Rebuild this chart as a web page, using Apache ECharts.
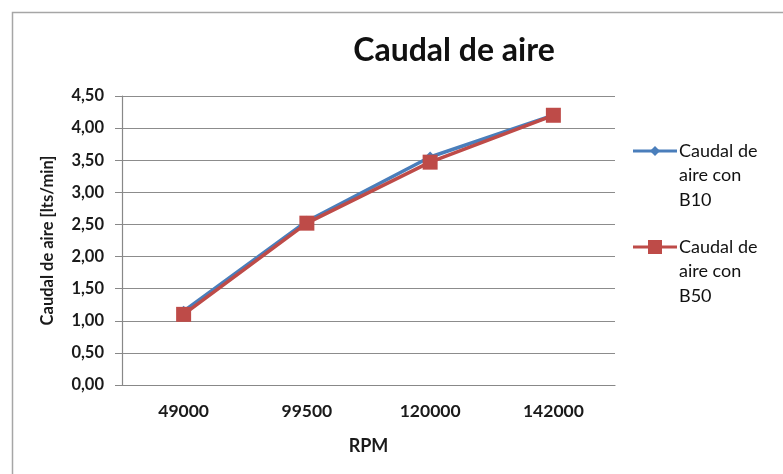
<!DOCTYPE html>
<html>
<head>
<meta charset="utf-8">
<script src="https://cdn.jsdelivr.net/npm/echarts@6/dist/echarts.min.js"></script>
<style>html,body{margin:0;padding:0;background:#fff}#c{width:783px;height:474px}</style>
</head>
<body>
<div id="c"></div>
<script>
const categories = ['49000', '99500', '120000', '142000'];
const b10 = [1.15, 2.55, 3.55, 4.20];
const b50 = [1.10, 2.52, 3.47, 4.20];
const seriesNames = ['Caudal de\naire con\nB10', 'Caudal de\naire con\nB50'];
const seriesColors = ['#4a7ebb', '#be4b48'];
const FONT = 'Lato';

const chart = echarts.init(document.getElementById('c'));

function legendEntry(i, cy, symbol) {
  const c = seriesColors[i];
  const els = [
    { type: 'line', shape: { x1: 633, y1: cy, x2: 677, y2: cy }, style: { stroke: c, lineWidth: 3 }, silent: true },
    { type: 'text', left: 679, top: cy - 12.5,
      style: { text: seriesNames[i], fill: '#111', font: 'normal 18px ' + FONT, lineHeight: 24.5 }, silent: true }
  ];
  if (symbol === 'diamond') {
    els.push({ type: 'polygon', shape: { points: [[655, cy - 5], [660, cy], [655, cy + 5], [650, cy]] }, style: { fill: c }, silent: true });
  } else {
    els.push({ type: 'rect', shape: { x: 648, y: cy - 7, width: 14, height: 14 }, style: { fill: c }, silent: true });
  }
  return els;
}

chart.setOption({
  animation: false,
  backgroundColor: '#fff',
  graphic: [{
    type: 'rect', left: 10, top: 10, shape: { width: 790, height: 480 },
    style: { fill: 'none', stroke: '#a6a6a6', lineWidth: 1.5 }, silent: true
  }].concat(legendEntry(0, 151, 'diamond'), legendEntry(1, 247, 'rect')),
  title: {
    text: 'Caudal de aire', left: 449, top: 30, textAlign: 'center',
    textStyle: { fontFamily: FONT, fontSize: 32, fontWeight: 'bold', color: '#111' }
  },
  grid: { left: 122, top: 96, right: 168, bottom: 89, containLabel: false },
  xAxis: {
    type: 'category', data: categories, boundaryGap: true,
    name: 'RPM', nameLocation: 'middle', nameGap: 52,
    nameTextStyle: { fontFamily: FONT, fontSize: 18, fontWeight: 'bold', color: '#1a1a1a' },
    axisLine: { lineStyle: { color: '#888', width: 1.2 } },
    axisTick: { show: false },
    axisLabel: { fontFamily: FONT, fontSize: 17.5, fontWeight: 'bold', color: '#1a1a1a', margin: 17 }
  },
  yAxis: {
    type: 'value', min: 0, max: 4.5, interval: 0.5,
    name: 'Caudal de aire [lts/min]', nameLocation: 'middle', nameGap: 66,
    nameTextStyle: { fontFamily: FONT, fontSize: 16.5, fontWeight: 'bold', color: '#1a1a1a' },
    axisLine: { show: true, lineStyle: { color: '#888', width: 1.2 } },
    axisTick: { show: true, length: 7, lineStyle: { color: '#888' } },
    splitLine: { lineStyle: { color: '#8c8c8c', width: 1.2 } },
    axisLabel: {
      fontFamily: FONT, fontSize: 16.5, fontWeight: 'bold', color: '#1a1a1a', margin: 18,
      formatter: v => v.toFixed(2).replace('.', ',')
    }
  },
  series: [{
    name: seriesNames[0], type: 'line', data: b10,
    lineStyle: { color: seriesColors[0], width: 3.5 },
    itemStyle: { color: seriesColors[0] },
    symbol: 'diamond', symbolSize: 11
  }, {
    name: seriesNames[1], type: 'line', data: b50,
    lineStyle: { color: seriesColors[1], width: 3.5 },
    itemStyle: { color: seriesColors[1] },
    symbol: 'rect', symbolSize: 15
  }]
});
</script>
</body>
</html>
